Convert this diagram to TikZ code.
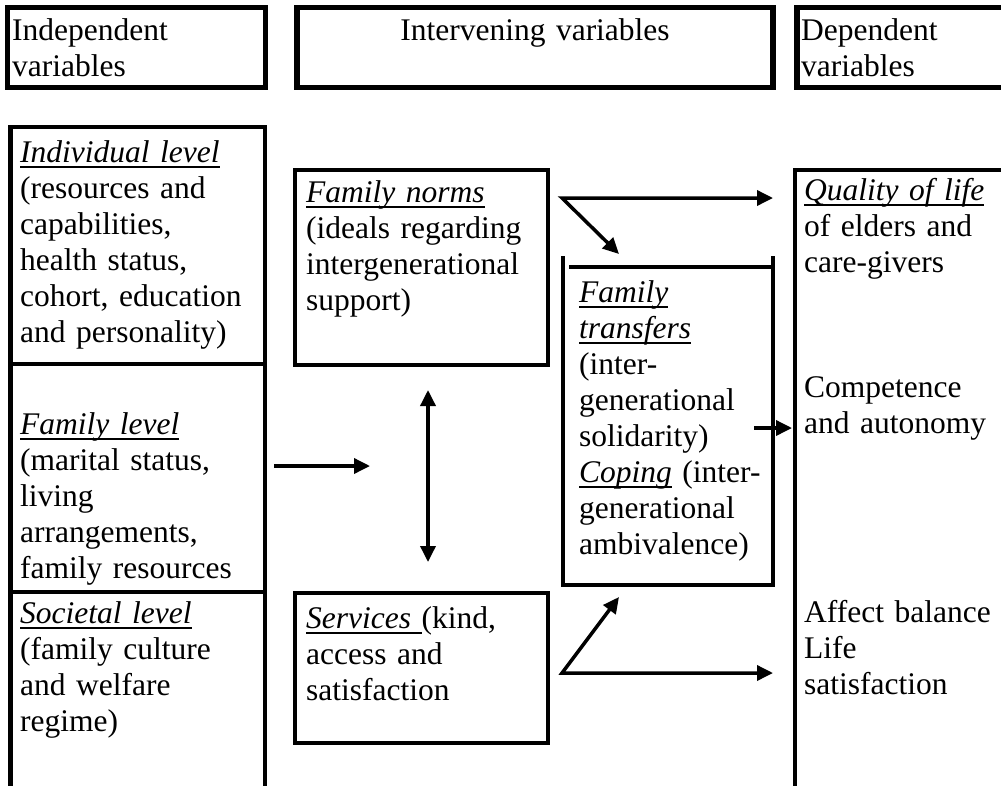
\documentclass[tikz,border=0pt]{standalone}
\usepackage{fontspec}
\setmainfont{Liberation Serif}
\usetikzlibrary{arrows.meta}
% italic heading with a rule at a fixed depth under the baseline
\newcommand\ulit[1]{\leavevmode\setbox0=\hbox{\itshape #1}\rlap{\rule[-6pt]{\wd0}{2pt}}\box0\relax}
\begin{document}
\begin{tikzpicture}[x=1pt,y=-1pt,
  txt/.style={anchor=base west, inner sep=0pt, text width=#1, align=left,
              font=\fontsize{31.5}{36}\selectfont},
  txt/.default=240pt,
  hframe/.style={line width=5.5pt},
  frame/.style={line width=4.5pt},
  tframe/.style={line width=3.5pt},
  arr/.style={line width=3.5pt, -{Triangle[length=16pt,width=15pt]}},
  darr/.style={line width=3.5pt, {Triangle[length=16pt,width=15pt]}-{Triangle[length=16pt,width=15pt]}},
]
\useasboundingbox (0,0) rectangle (1001,785);
\clip (0,0) rectangle (1001,785);

% column headers
\draw[hframe] (7.5,7.5) rectangle (265.5,87.5);
\draw[hframe] (297,7.5) rectangle (773,87.5);
\draw[hframe] (797,7.5) rectangle (1012,87.5);
\node[txt] (hind) at (12,40) {Independent\\variables};
\node[txt=470pt, anchor=base, align=center] (hint) at (535,40) {Intervening variables};
\node[txt] (hdep) at (801,40) {Dependent\\variables};

% independent variables column
\draw[frame] (10.5,790) -- (10.5,127) -- (265,127) -- (265,790);
\draw[frame] (10.5,364) -- (265,364);
\draw[frame] (10.5,592) -- (265,592);
\node[txt] (indiv) at (20,162) {\ulit{Individual level}\\(resources and\\capabilities,\\health status,\\cohort, education\\and personality)};
\node[txt] (fam) at (20,434) {\ulit{Family level}\\(marital status,\\living\\arrangements,\\family resources};
\node[txt] (soc) at (20,623) {\ulit{Societal level}\\(family culture\\and welfare\\regime)};

% intervening variables
\draw[frame] (295,170) rectangle (548,365);
\node[txt] (norms) at (306,202) {\ulit{Family norms}\\(ideals regarding\\intergenerational\\support)};
\draw[frame] (295,593) rectangle (548,743);
\node[txt] (serv) at (306,628) {\ulit{Services\ }(kind,\\access and\\satisfaction};

\draw[tframe] (563,256) -- (563,587);
\draw[tframe] (773,256) -- (773,587);
\draw[tframe] (569,267) -- (773,267);
\draw[tframe] (561,585) -- (775,585);
\node[txt=200pt] (trans) at (579,302) {\ulit{Family}\\\ulit{transfers}\\(inter-\\generational\\solidarity)\\\ulit{Coping} (inter-\\generational\\ambivalence)};

% dependent variables column
\draw[frame] (795,790) -- (795,170) -- (1012,170);
\node[txt] (qual) at (804,200) {\ulit{Quality of life}\\of elders and\\care-givers};
\node[txt] (comp) at (804,397) {Competence\\and autonomy};
\node[txt] (aff) at (804,622) {Affect balance\\Life\\satisfaction};

% connector end points
\coordinate (fa) at (274,466);
\coordinate (fb) at (370,466);
\coordinate (va) at (428,390);
\coordinate (vb) at (428,562);
\coordinate (ns) at (562,198);
\coordinate (nq) at (773,198);
\coordinate (nt) at (619,254);
\coordinate (ts) at (754,428);
\coordinate (tq) at (792,428);
\coordinate (ss) at (562,673);
\coordinate (st) at (619,597);
\coordinate (sq) at (773,673);

% arrows
\draw[arr] (fa) -- (fb);
\draw[darr] (va) -- (vb);
\draw[darr] (nt) -- (ns) -- (nq);
\draw[arr] (ts) -- (tq);
\draw[darr] (st) -- (ss) -- (sq);
\end{tikzpicture}
\end{document}
